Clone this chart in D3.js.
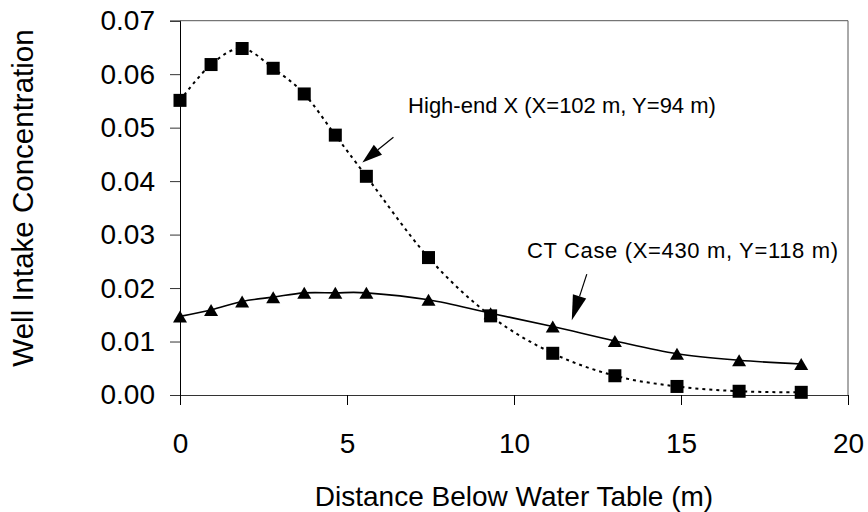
<!DOCTYPE html>
<html>
<head>
<meta charset="utf-8">
<script src="https://cdn.jsdelivr.net/npm/d3@7"></script>
<style>
  html, body { margin: 0; padding: 0; background: #fff; }
  svg { display: block; font-family: "Liberation Sans", Arial, sans-serif; }
</style>
</head>
<body>
<svg id="chart" width="868" height="512"></svg>
<script>
// ---- data ----
const distance = [0, 0.93, 1.86, 2.79, 3.72, 4.65, 5.58, 7.44, 9.3, 11.16, 13.02, 14.88, 16.74, 18.6];
const highEndX = [0.0551, 0.0618, 0.0648, 0.0611, 0.0563, 0.0486, 0.0409, 0.0257, 0.0148, 0.0078, 0.0036, 0.0016, 0.0007, 0.0005];
const ctCase   = [0.0147, 0.0159, 0.0175, 0.0183, 0.0191, 0.0191, 0.0191, 0.0178, 0.0153, 0.0128, 0.0101, 0.0077, 0.0065, 0.0058];
const xTicks = [0, 5, 10, 15, 20];
const yTicks = [0, 0.01, 0.02, 0.03, 0.04, 0.05, 0.06, 0.07];
const xTitle = "Distance Below Water Table (m)";
const yTitle = "Well Intake Concentration";
const labelHigh = "High-end X (X=102 m, Y=94 m)";
const labelCT = "CT Case (X=430 m, Y=118 m)";
// annotation anchors in data units: [x, y]
const highTextAt = [6.83, 0.0527];
const highArrow = [[6.39, 0.0482], [5.46, 0.0435]];
const ctTextAt = [10.39, 0.0256];
const ctArrow = [[12.18, 0.0226], [11.73, 0.0140]];

// ---- layout ----
const svg = d3.select("#chart");
const x = d3.scaleLinear().domain([0, 20]).range([180, 848]);
const y = d3.scaleLinear().domain([0, 0.07]).range([395, 20.7]);

// plot frame (top & right)
svg.append("path")
  .attr("d", `M${x(0)},${y(0.07)}H${x(20)}V${y(0)}`)
  .attr("fill", "none").attr("stroke", "#555").attr("stroke-width", 1);

// y axis
const gy = svg.append("g").attr("transform", `translate(${x(0)},0)`)
  .call(d3.axisLeft(y).tickValues(yTicks).tickSize(10).tickPadding(15).tickFormat(d3.format(".2f")));
gy.select(".domain").attr("stroke", "#000");
gy.selectAll(".tick line").attr("stroke", "#333");
gy.selectAll("text").attr("font-size", 28).attr("fill", "#000")
  .attr("font-family", "Liberation Sans, Arial, sans-serif");

// x axis
const gx = svg.append("g").attr("transform", `translate(0,${y(0)})`)
  .call(d3.axisBottom(x).tickValues(xTicks).tickSize(10).tickFormat(d3.format("d")));
gx.select(".domain").attr("stroke", "#333");
gx.selectAll(".tick line").attr("stroke", "#000");
gx.selectAll("text").attr("font-size", 28).attr("fill", "#000")
  .attr("font-family", "Liberation Sans, Arial, sans-serif")
  .attr("y", 58).attr("dy", 0);

// axis titles
svg.append("text").attr("x", 514).attr("y", 506)
  .attr("text-anchor", "middle").attr("font-size", 28).text(xTitle);
svg.append("text").attr("transform", `translate(33,198) rotate(-90)`)
  .attr("text-anchor", "middle").attr("font-size", 29.5).text(yTitle);

// lines
const line = d3.line().x((d, i) => x(distance[i])).y(d => y(d)).curve(d3.curveCardinal.tension(0));
svg.append("path").datum(highEndX).attr("d", line)
  .attr("fill", "none").attr("stroke", "#000").attr("stroke-width", 2).attr("stroke-dasharray", "3,4");
svg.append("path").datum(ctCase).attr("d", line)
  .attr("fill", "none").attr("stroke", "#000").attr("stroke-width", 1.6);

// markers
const sq = 13;
svg.append("g").selectAll("rect").data(highEndX).join("rect")
  .attr("x", (d, i) => x(distance[i]) - sq / 2).attr("y", d => y(d) - sq / 2)
  .attr("width", sq).attr("height", sq).attr("fill", "#000");
const tw = 14, th = 12;
svg.append("g").selectAll("path").data(ctCase).join("path")
  .attr("transform", (d, i) => `translate(${x(distance[i])},${y(d)})`)
  .attr("d", `M0,${-th / 2}L${tw / 2},${th / 2}L${-tw / 2},${th / 2}Z`).attr("fill", "#000");

// annotations
function arrow(pts, headLen, headHalf) {
  const [x0, y0] = [x(pts[0][0]), y(pts[0][1])];
  const [x1, y1] = [x(pts[1][0]), y(pts[1][1])];
  const dx = x1 - x0, dy = y1 - y0, L = Math.hypot(dx, dy);
  const ux = dx / L, uy = dy / L;
  const bx = x1 - ux * headLen, by = y1 - uy * headLen;
  svg.append("line").attr("x1", x0).attr("y1", y0).attr("x2", bx).attr("y2", by)
    .attr("stroke", "#000").attr("stroke-width", 1.2);
  svg.append("path")
    .attr("d", `M${x1},${y1}L${bx - uy * headHalf},${by + ux * headHalf}L${bx + uy * headHalf},${by - ux * headHalf}Z`)
    .attr("fill", "#000");
}
arrow(highArrow, 20, 6.5);
arrow(ctArrow, 25, 7);

svg.append("text").attr("x", x(highTextAt[0])).attr("y", y(highTextAt[1]))
  .attr("font-size", 22).text(labelHigh);
svg.append("text").attr("x", x(ctTextAt[0])).attr("y", y(ctTextAt[1]))
  .attr("font-size", 22).attr("textLength", 311).attr("lengthAdjust", "spacing").text(labelCT);
</script>
</body>
</html>
